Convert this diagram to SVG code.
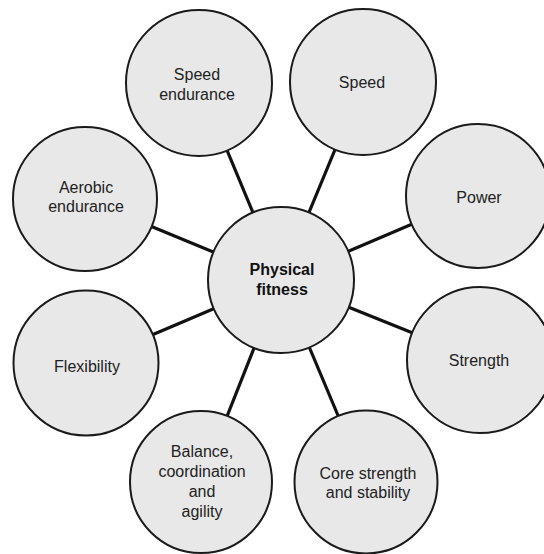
<svg xmlns="http://www.w3.org/2000/svg" width="544" height="554" viewBox="0 0 544 554">
<style>
.c{fill:#e8e8e8;stroke:#1a1a1a;stroke-width:2}
.t{font-family:"Liberation Sans",Arial,sans-serif;font-size:16px;fill:#222;text-anchor:middle}
.b{font-weight:bold;fill:#111}
#connectors line{stroke:#111;stroke-width:3.2}
</style>
<rect width="544" height="554" fill="#fff"/>
<g id="connectors">
<line x1="281" y1="280" x2="199" y2="83"/>
<line x1="281" y1="280" x2="363" y2="82"/>
<line x1="281" y1="280" x2="85" y2="199"/>
<line x1="281" y1="280" x2="478" y2="196"/>
<line x1="281" y1="280" x2="86" y2="363"/>
<line x1="281" y1="280" x2="480" y2="360"/>
<line x1="281" y1="280" x2="201" y2="482"/>
<line x1="281" y1="280" x2="366" y2="482"/>
</g>
<g id="speed-endurance"><circle class="c" cx="199" cy="83" r="73"/><text class="t" x="197" y="80">Speed</text><text class="t" x="197" y="100">endurance</text></g>
<g id="speed"><circle class="c" cx="363" cy="82" r="73"/><text class="t" x="362" y="88">Speed</text></g>
<g id="aerobic-endurance"><circle class="c" cx="85" cy="199" r="72"/><text class="t" x="86" y="193">Aerobic</text><text class="t" x="86" y="212">endurance</text></g>
<g id="power"><circle class="c" cx="478" cy="196" r="72"/><text class="t" x="479" y="203">Power</text></g>
<g id="flexibility"><circle class="c" cx="86" cy="363" r="72.5"/><text class="t" x="87" y="372">Flexibility</text></g>
<g id="strength"><circle class="c" cx="480" cy="360" r="73"/><text class="t" x="479" y="366">Strength</text></g>
<g id="balance"><circle class="c" cx="201" cy="482" r="71"/><text class="t" x="202" y="457">Balance,</text><text class="t" x="202" y="477">coordination</text><text class="t" x="202" y="497">and</text><text class="t" x="202" y="517">agility</text></g>
<g id="core"><circle class="c" cx="366" cy="482" r="71.5"/><text class="t" x="368" y="479">Core strength</text><text class="t" x="368" y="498">and stability</text></g>
<g id="physical-fitness"><circle class="c" cx="281" cy="280" r="73"/><text class="t b" x="282" y="275">Physical</text><text class="t b" x="282" y="295">fitness</text></g>
</svg>
